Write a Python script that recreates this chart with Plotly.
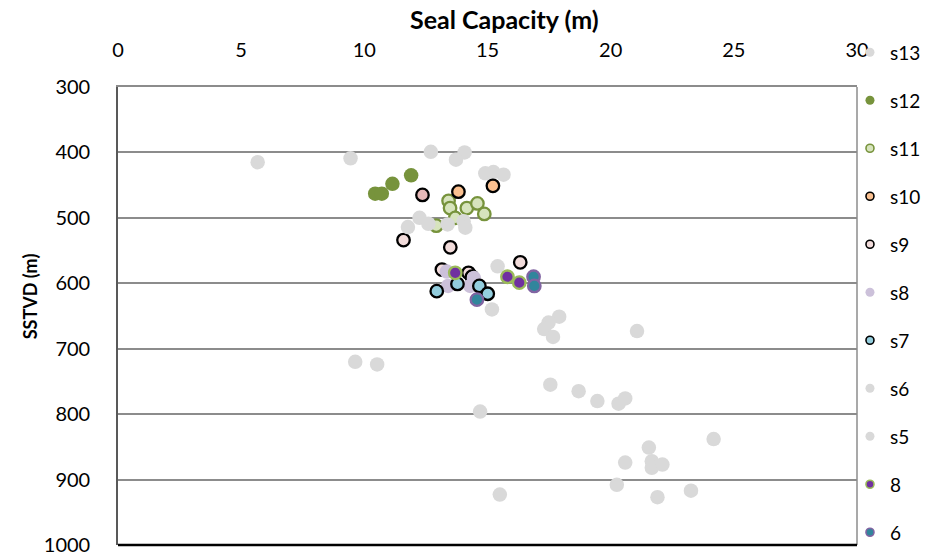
import plotly.graph_objects as go

# Seal capacity (m) vs sub-sea true vertical depth (m), per sample set
s13_x = [5.67, 9.44, 12.7, 14.07, 13.72, 14.91, 15.24, 15.65]
s13_y = [415, 409, 399, 400, 411, 432, 430, 434]

s12_x = [10.44, 10.71, 11.14, 11.9]
s12_y = [463, 463, 448, 435]

s11_x = [13.42, 13.48, 13.69, 14.16, 14.59, 14.87, 12.92]
s11_y = [474, 485, 500, 485, 478, 494, 512]

s10_x = [13.82, 15.22]
s10_y = [460, 451]

s9_x = [11.59, 13.49, 16.33, 13.15, 14.23, 14.37]
s9_y = [534, 545, 568, 579, 584, 590]

s9b_x = [12.36]
s9b_y = [465]

s8_x = [13.35, 13.4, 14.3, 14.45]
s8_y = [582, 604, 604, 592]

s7_x = [12.94, 13.78, 14.67, 15.01]
s7_y = [612, 601, 604, 616]

s6_x = [12.24, 11.77, 12.6, 13.38, 14.03, 14.1, 15.41, 15.18, 17.91, 17.48,
        17.3, 17.66, 21.07, 9.63, 10.52]
s6_y = [500, 514, 509, 510, 505, 515, 574, 640, 651, 660,
        670, 682, 673, 720, 724]

s5_x = [17.55, 18.7, 19.46, 20.32, 20.59, 14.7, 24.18, 21.55, 20.59, 21.67,
        21.67, 22.1, 20.25, 21.9, 23.26, 15.5]
s5_y = [755, 765, 780, 784, 776, 796, 838, 851, 874, 872,
        882, 877, 908, 927, 917, 923]

w8_x = [13.69, 15.81, 16.29]
w8_y = [584, 590, 599]

w6_x = [14.57, 16.87, 16.9]
w6_y = [625, 590, 604]

x_ticks = [0, 5, 10, 15, 20, 25, 30]
y_ticks = [300, 400, 500, 600, 700, 800, 900, 1000]

GRAY = "#D9D9D9"
FONT = "Lato"

# (name, xs, ys, fill, outline, in legend)
series = [
    ("s13", s13_x, s13_y, GRAY, None, True),
    ("s12", s12_x, s12_y, "#77933C", None, True),
    ("s11", s11_x, s11_y, "#D7E4BD", "#77933C", True),
    ("s10", s10_x, s10_y, "#FAC090", "#000000", True),
    ("s9", s9_x, s9_y, "#F2DCDB", "#000000", True),
    ("s9b", s9b_x, s9b_y, "#E6B9B8", "#000000", False),
    ("s8", s8_x, s8_y, "#CCC1DA", None, True),
    ("s7", s7_x, s7_y, "#93CDDD", "#000000", True),
    ("s6", s6_x, s6_y, GRAY, None, True),
    ("s5", s5_x, s5_y, GRAY, None, True),
    ("8", w8_x, w8_y, "#7030A0", "#9BBB59", True),
    ("6", w6_x, w6_y, "#31859C", "#8064A2", True),
]

fig = go.Figure()

for name, xs, ys, fill, edge, _ in series:
    if edge:
        marker = dict(size=12.5, color=fill, line=dict(color=edge, width=2.3))
    else:
        marker = dict(size=14.5, color=fill, line=dict(width=0))
    fig.add_trace(go.Scatter(x=xs, y=ys, mode="markers", name=name,
                             marker=marker, showlegend=False, hoverinfo="x+y"))

# small legend swatches
for i, (name, xs, ys, fill, edge, shown) in enumerate(series):
    if not shown:
        continue
    if edge:
        marker = dict(size=8, color=fill, line=dict(color=edge, width=1.6))
    else:
        marker = dict(size=9, color=fill, line=dict(width=0))
    fig.add_trace(go.Scatter(x=[None], y=[None], mode="markers", name=name,
                             marker=marker, legendgroup=f"g{i}", showlegend=True))

fig.update_xaxes(
    side="top", range=[0, 30], tickvals=x_ticks, ticks="",
    ticklabelstandoff=20, showgrid=False, zeroline=False,
    showline=True, linecolor="#8C8C8C", linewidth=1.5,
    tickfont=dict(family=FONT, size=20, color="#000000"),
)
fig.update_yaxes(
    range=[1000, 300], tickvals=y_ticks, ticks="", ticklabelstandoff=22,
    showgrid=True, gridcolor="#8C8C8C", gridwidth=1.6, zeroline=False,
    showline=True, linecolor="#595959", linewidth=1.6,
    tickfont=dict(family=FONT, size=20, color="#000000"),
)

# right and bottom frame edges
fig.add_shape(type="line", xref="paper", yref="paper", x0=1, x1=1, y0=0, y1=1,
              line=dict(color="#8C8C8C", width=1.5))
fig.add_shape(type="line", xref="paper", yref="paper", x0=0, x1=1, y0=0, y1=0,
              line=dict(color="#000000", width=2.5))

fig.add_annotation(text="<b>Seal Capacity (m)</b>", xref="paper", yref="paper",
                   x=0.523, y=1.149, xanchor="center", yanchor="middle",
                   showarrow=False, font=dict(family=FONT, size=25, color="#000000"))
fig.add_annotation(text="<b>SSTVD (m)</b>", xref="paper", yref="paper",
                   x=-0.119, y=0.543, xanchor="center", yanchor="middle",
                   textangle=-90, showarrow=False,
                   font=dict(family=FONT, size=18, color="#000000"))

fig.update_layout(
    width=927, height=557,
    margin=dict(l=118, r=70, t=87, b=12, autoexpand=False),
    paper_bgcolor="white", plot_bgcolor="white",
    showlegend=True,
    legend=dict(
        x=0.9905, y=1.117, xanchor="left", yanchor="top",
        traceorder="grouped", tracegroupgap=20.3, maxheight=600,
        bgcolor="rgba(0,0,0,0)", itemsizing="trace",
        font=dict(family=FONT, size=19, color="#000000"),
    ),
)

fig.write_html("out.html")
